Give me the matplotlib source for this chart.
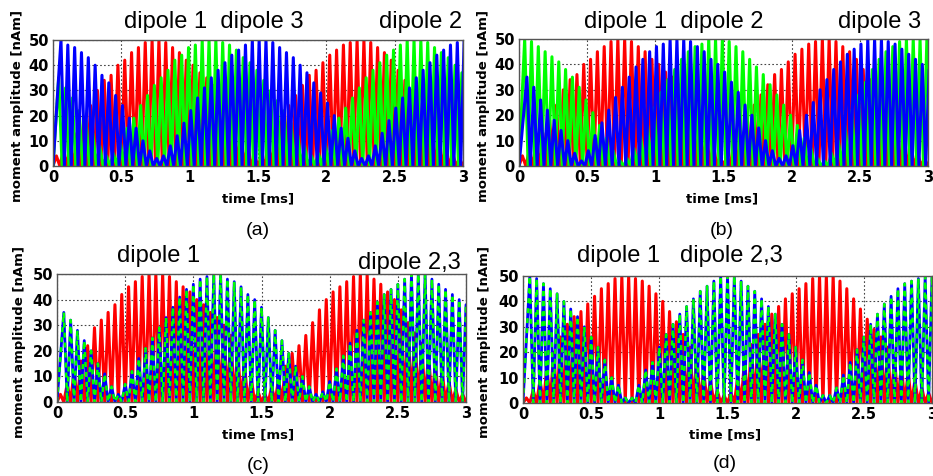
import numpy as np
import matplotlib.pyplot as plt

W, H = 933, 476
PERIOD = 0.05  # carrier period [ms], 60 cycles over 3 ms

# peak height of each carrier cycle [nAm]
red_ab = [4, 6, 9, 13, 18, 24, 30, 34, 36, 40, 42, 45, 47, 49, 50, 50, 49, 47, 45, 42,
          40, 37, 35, 32, 28, 24, 19, 14, 9, 4, 4, 9, 14, 19, 24, 28, 32, 36, 38, 41,
          44, 46, 48, 49, 50, 50, 49, 47, 45, 42, 38, 34, 30, 25, 21, 16, 12, 8, 5, 3]
blue_a = [50, 48, 47, 45, 43, 40, 36, 33, 28, 24, 19, 15, 10, 6, 3, 4, 8, 12, 17, 22,
          27, 31, 35, 38, 41, 44, 46, 48, 50, 50, 50, 49, 47, 45, 43, 40, 37, 33, 29, 25,
          20, 15, 11, 6, 3, 4, 8, 13, 18, 23, 27, 31, 35, 38, 41, 44, 46, 48, 49, 50]
green_a = [35, 31, 27, 22, 18, 13, 8, 4, 5, 10, 15, 19, 24, 28, 32, 35, 38, 42, 44, 47,
           48, 50, 50, 50, 49, 48, 46, 43, 41, 38, 34, 30, 26, 22, 17, 12, 8, 4, 5, 9,
           14, 19, 23, 27, 31, 35, 38, 41, 44, 46, 48, 50, 50, 50, 49, 47, 45, 43, 40, 37]
green_b = [50, 49, 47, 45, 43, 41, 38, 35, 31, 26, 21, 16, 11, 6, 2, 3, 7, 12, 17, 23,
           29, 34, 38, 42, 45, 47, 48, 50, 50, 50, 49, 47, 45, 42, 39, 36, 32, 28, 24, 20,
           16, 11, 7, 3, 2, 5, 10, 16, 22, 28, 33, 38, 42, 45, 47, 49, 50, 50, 50, 50]
blue_b = [35, 31, 26, 22, 18, 14, 10, 5, 2, 6, 12, 17, 22, 27, 31, 35, 39, 42, 45, 47,
          48, 50, 50, 50, 49, 47, 45, 42, 40, 37, 33, 29, 24, 20, 15, 10, 6, 3, 4, 8,
          14, 20, 25, 30, 34, 38, 41, 44, 46, 48, 50, 50, 50, 49, 48, 46, 44, 42, 40, 38]
red_c = [3, 7, 12, 16, 22, 29, 32, 35, 38, 42, 45, 47, 49, 50, 50, 50, 49, 47, 45, 43,
         40, 38, 35, 33, 30, 26, 21, 15, 9, 4, 3, 6, 9, 14, 19, 22, 26, 31, 36, 40,
         43, 45, 47, 49, 50, 50, 48, 46, 43, 40, 36, 31, 27, 23, 19, 15, 12, 8, 5, 3]
teal_c = [35, 32, 28, 24, 20, 15, 11, 6, 3, 7, 12, 17, 21, 25, 29, 33, 37, 41, 44, 46,
          48, 49, 50, 50, 48, 47, 45, 42, 40, 37, 33, 28, 24, 19, 14, 10, 6, 3, 4, 8,
          13, 18, 23, 28, 32, 35, 39, 42, 44, 46, 48, 50, 50, 50, 48, 46, 44, 42, 40, 38]
red_d = [2, 5, 9, 14, 20, 26, 31, 34, 36, 39, 42, 45, 47, 49, 50, 50, 49, 48, 46, 43,
         40, 36, 32, 27, 22, 18, 13, 9, 5, 3, 4, 10, 17, 23, 27, 31, 35, 38, 41, 43,
         45, 47, 49, 50, 50, 50, 48, 45, 41, 37, 33, 29, 26, 22, 18, 15, 12, 9, 6, 4]
teal_d = [50, 49, 47, 45, 43, 40, 37, 34, 30, 26, 22, 17, 10, 7, 2, 2, 7, 13, 16, 22,
          27, 31, 35, 38, 41, 44, 46, 48, 50, 50, 50, 48, 46, 44, 41, 38, 35, 31, 27, 22,
          17, 12, 7, 3, 3, 6, 11, 16, 21, 26, 31, 35, 39, 42, 45, 47, 48, 49, 50, 50]

xticks = [0, 0.5, 1, 1.5, 2, 2.5, 3]
xticklabels = ["0", "0.5", "1", "1.5", "2", "2.5", "3"]
yticks = [0, 10, 20, 30, 40, 50]

RED = "#ff0000"
GREEN = "#00ff00"
BLUE = "#0000ff"
LW = 2.2


def carrier(ax, peaks, color, phase, **kw):
    n = len(peaks)
    t = np.empty(2 * n + 1)
    t[0::2] = np.arange(n + 1) * PERIOD + phase
    t[1::2] = (np.arange(n) + 0.5) * PERIOD + phase
    y = np.zeros(2 * n + 1)
    y[1::2] = peaks
    t[0] = 0
    ax.plot(t, y, color=color, **kw)


def make_axes(fig, left, top, right, bottom):
    ax = fig.add_axes([left / W, 1 - bottom / H, (right - left) / W, (bottom - top) / H])
    ax.set_xlim(0, 3)
    ax.set_ylim(0, 50)
    ax.set_xticks(xticks)
    ax.set_xticklabels(xticklabels)
    ax.set_yticks(yticks)
    ax.tick_params(length=0, pad=3, labelsize=10.5)
    for lab in ax.get_xticklabels() + ax.get_yticklabels():
        lab.set_fontweight("bold")
    ax.grid(True, color="#444444", linestyle=(0, (1.5, 2)), linewidth=0.8)
    for s in ax.spines.values():
        s.set_color("#555555")
        s.set_linewidth(1)
    return ax


def labels(fig, cx, ylab_x, ylab_y, xlab_y, tag_y, tag):
    fig.text(ylab_x / W, 1 - ylab_y / H, "moment amplitude [nAm]", rotation=90,
             ha="center", va="center", fontsize=9.5, fontweight="bold")
    fig.text(cx / W, 1 - xlab_y / H, "time [ms]", ha="center", va="center",
             fontsize=9.5, fontweight="bold")
    fig.text(cx / W, 1 - tag_y / H, tag, ha="center", va="center",
             fontsize=14, family="Liberation Sans")


def title(fig, x, y, s):
    fig.text(x / W, 1 - y / H, s, ha="left", va="center", fontsize=17,
             family="Liberation Sans")


fig = plt.figure(figsize=(W / 100, H / 100), dpi=100)

# (a)
ax = make_axes(fig, 53, 40, 463, 166)
carrier(ax, red_ab, RED, 0.0, lw=LW)
carrier(ax, green_a, GREEN, PERIOD / 3, lw=LW)
carrier(ax, blue_a, BLUE, 2 * PERIOD / 3, lw=LW)
labels(fig, 258, 18, 106, 199, 230, "(a)")
title(fig, 124, 22, "dipole 1  dipole 3")
title(fig, 379, 22, "dipole 2")

# (b)
ax = make_axes(fig, 519, 39, 928, 166)
carrier(ax, red_ab, RED, 0.0, lw=LW)
carrier(ax, green_b, GREEN, PERIOD / 3, lw=LW)
carrier(ax, blue_b, BLUE, 2 * PERIOD / 3, lw=LW)
labels(fig, 722, 483, 106, 199, 230, "(b)")
title(fig, 584, 22, "dipole 1  dipole 2")
title(fig, 838, 22, "dipole 3")

# (c)
ax = make_axes(fig, 57, 274, 466, 402)
carrier(ax, red_c, RED, 0.0, lw=LW)
carrier(ax, teal_c, BLUE, PERIOD / 2, lw=2.0)
carrier(ax, teal_c, GREEN, PERIOD / 2, lw=1.8, linestyle=(0, (2, 2)))
labels(fig, 258, 20, 342, 435, 465, "(c)")
title(fig, 117, 256, "dipole 1")
title(fig, 358, 263, "dipole 2,3")

# (d)
ax = make_axes(fig, 523, 276, 932, 403)
carrier(ax, red_d, RED, 0.0, lw=LW)
carrier(ax, teal_d, BLUE, PERIOD / 2, lw=2.0)
carrier(ax, teal_d, GREEN, PERIOD / 2, lw=1.8, linestyle=(0, (2, 2)))
labels(fig, 725, 485, 342, 435, 464, "(d)")
title(fig, 577, 256, "dipole 1   dipole 2,3")

fig.savefig("out.png", dpi=100)
